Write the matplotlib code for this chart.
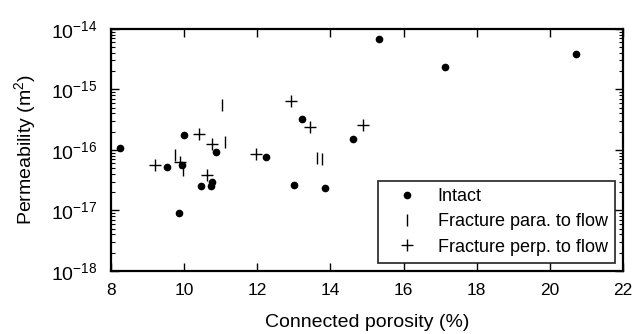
import math
import matplotlib.pyplot as plt
from matplotlib.ticker import LogLocator, FixedLocator, FuncFormatter

plt.rcParams['font.family'] = ['Liberation Sans', 'DejaVu Sans']
plt.rcParams['mathtext.fontset'] = 'custom'
plt.rcParams['mathtext.rm'] = 'Liberation Sans'
plt.rcParams['mathtext.it'] = 'Liberation Sans:italic'
plt.rcParams['mathtext.bf'] = 'Liberation Sans:bold'

# Intact samples
intact_por = [8.25, 9.53, 9.95, 10.0, 10.88, 12.25, 10.46, 10.73, 10.77, 9.86,
              13.23, 13.0, 13.84, 14.62, 15.33, 17.12, 20.72]
intact_perm = [1.07e-16, 5.2e-17, 5.6e-17, 1.74e-16, 9.3e-17, 7.6e-17, 2.5e-17, 2.5e-17,
               2.95e-17, 9.1e-18, 3.2e-16, 2.6e-17, 2.3e-17, 1.5e-16, 6.8e-15, 2.3e-15, 3.8e-15]

# Fracture parallel to flow
para_por = [11.03, 11.11, 9.75, 9.96, 13.64, 13.78]
para_perm = [5.5e-16, 1.35e-16, 8.3e-17, 4.7e-17, 7.3e-17, 7.1e-17]

# Fracture perpendicular to flow
perp_por = [9.21, 9.89, 10.41, 10.77, 10.61, 11.96, 12.92, 13.43, 14.9]
perp_perm = [5.7e-17, 6.3e-17, 1.86e-16, 1.26e-16, 3.8e-17, 8.5e-17, 6.4e-16, 2.4e-16, 2.6e-16]

fig = plt.figure(figsize=(6.35, 3.34), dpi=100)
ax = fig.add_axes([0.175, 0.189, 0.806, 0.7246])

ax.plot(intact_por, intact_perm, 'o', color='black', markersize=4.5, label='Intact')
ax.plot(para_por, para_perm, '|', color='black', markersize=8, markeredgewidth=1.0,
        label='Fracture para. to flow')
ax.plot(perp_por, perp_perm, '+', color='black', markersize=9, markeredgewidth=1.0,
        label='Fracture perp. to flow')

ax.set_yscale('log')
ax.set_xlim(8, 22)
ax.set_ylim(1e-18, 1e-14)
ax.xaxis.set_major_locator(FixedLocator([8, 10, 12, 14, 16, 18, 20, 22]))
ax.yaxis.set_major_locator(LogLocator(base=10, numticks=10))
ax.yaxis.set_minor_locator(LogLocator(base=10, subs=range(2, 10), numticks=10))
ax.yaxis.set_major_formatter(FuncFormatter(
    lambda v, p: r'$\mathregular{10^{%d}}$' % round(math.log10(v))))

ax.set_xlabel('Connected porosity (%)', fontsize=14, labelpad=11)
ax.set_ylabel(r'Permeability (m$\mathregular{^2}$)', fontsize=14, labelpad=9)

ax.tick_params(which='both', direction='in', top=True, right=True)
ax.tick_params(axis='x', labelsize=12.5, pad=9)
ax.tick_params(axis='y', labelsize=14, pad=10)
ax.tick_params(which='major', length=6, width=1)
ax.tick_params(which='minor', length=3, width=0.8)
for s in ax.spines.values():
    s.set_linewidth(1.6)

leg = ax.legend(loc='lower right', fontsize=13, frameon=True, fancybox=False,
                edgecolor='black', handletextpad=0.5, handlelength=2.4,
                borderaxespad=0.45, labelspacing=0.45, borderpad=0.4)
leg.get_frame().set_linewidth(1.3)

plt.savefig('out.png', dpi=100)
